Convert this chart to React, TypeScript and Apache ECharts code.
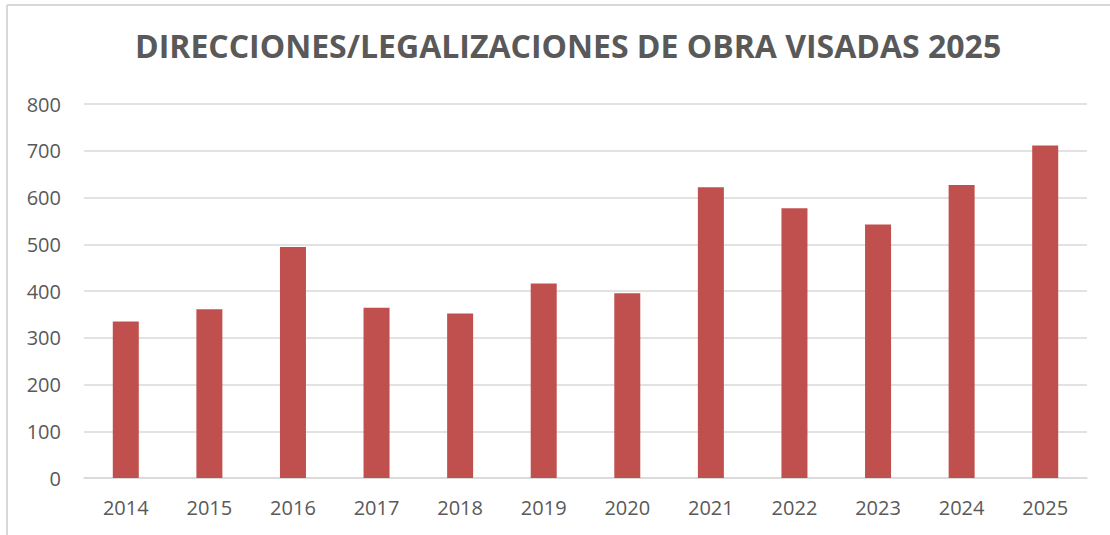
import React, { useEffect, useRef } from "react";
import * as echarts from "echarts";

const categories = ["2014", "2015", "2016", "2017", "2018", "2019", "2020", "2021", "2022", "2023", "2024", "2025"];
const values = [335, 361, 494, 364, 352, 416, 395, 622, 577, 542, 627, 711];
const titleText = "DIRECCIONES/LEGALIZACIONES DE OBRA VISADAS 2025";

export default function App() {
  const ref = useRef<HTMLDivElement>(null);
  useEffect(() => {
    if (!ref.current) return;
    const chart = echarts.init(ref.current, undefined, { renderer: "svg" });
    chart.setOption({
      animation: false,
      backgroundColor: "#ffffff",
      title: {
        text: titleText,
        left: 130,
        top: 24,
        textStyle: {
          fontFamily: "Open Sans",
          fontWeight: "bold",
          fontSize: 32,
          color: "#595959",
        },
      },
      grid: { left: 84, right: 23, top: 104, bottom: 57, containLabel: false },
      xAxis: {
        type: "category",
        data: categories,
        axisLine: { show: true, lineStyle: { color: "#d9d9d9", width: 1.5 } },
        axisTick: { show: false },
        axisLabel: { color: "#595959", fontFamily: "Open Sans", fontSize: 20, margin: 19 },
      },
      yAxis: {
        type: "value",
        min: 0,
        max: 800,
        interval: 100,
        axisLine: { show: false },
        axisTick: { show: false },
        axisLabel: { color: "#595959", fontFamily: "Open Sans", fontSize: 20, margin: 23 },
        splitLine: { lineStyle: { color: "#d9d9d9", width: 1.5 } },
      },
      series: [
        {
          type: "bar",
          data: values,
          barWidth: 26,
          itemStyle: { color: "#c0504d" },
        },
      ],
      graphic: [
        { type: "line", shape: { x1: 7, y1: 5, x2: 1110, y2: 5 }, style: { stroke: "#d9d9d9", lineWidth: 2 } },
        { type: "line", shape: { x1: 7, y1: 5, x2: 7, y2: 535 }, style: { stroke: "#d9d9d9", lineWidth: 2 } },
      ],
    });
    return () => chart.dispose();
  }, []);
  return (
    <div
      ref={ref}
      style={{ position: "absolute", left: 0, top: 0, width: 1110, height: 535 }}
    />
  );
}
